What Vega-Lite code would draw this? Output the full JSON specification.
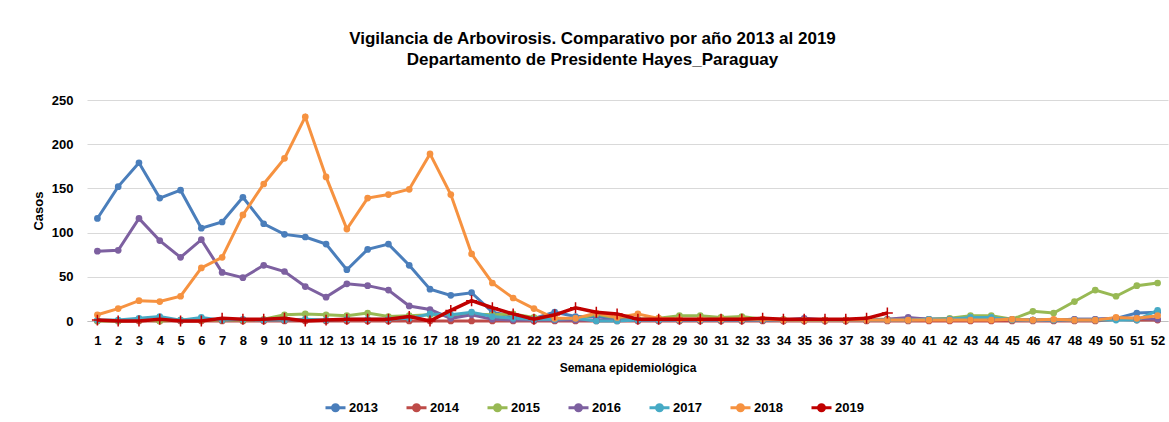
{
  "$schema": "https://vega.github.io/schema/vega-lite/v6.json",
  "width": 1081,
  "height": 221,
  "autosize": {"type": "none"},
  "padding": {"left": 87, "top": 100, "right": 1, "bottom": 101},
  "background": "white",
  "config": {
    "view": {"stroke": null},
    "font": "Liberation Sans Narrow, Arial Narrow, Liberation Sans, Arial"
  },
  "title": {
    "text": ["Vigilancia de Arbovirosis. Comparativo por año 2013 al 2019", "Departamento de Presidente Hayes_Paraguay"],
    "fontSize": 17,
    "fontWeight": "bold",
    "color": "#000000",
    "anchor": "middle",
    "dx": -35,
    "offset": 25,
    "lineHeight": 21
  },
  "data": {
    "values": [
      {"week":1,"2013":116,"2014":0,"2015":0,"2016":79,"2017":1,"2018":7,"2019":1},
      {"week":2,"2013":152,"2014":0,"2015":0,"2016":80,"2017":1,"2018":14,"2019":0},
      {"week":3,"2013":179,"2014":0,"2015":1,"2016":116,"2017":3,"2018":23,"2019":0},
      {"week":4,"2013":139,"2014":0,"2015":0,"2016":91,"2017":5,"2018":22,"2019":2},
      {"week":5,"2013":148,"2014":0,"2015":1,"2016":72,"2017":1,"2018":28,"2019":0},
      {"week":6,"2013":105,"2014":0,"2015":1,"2016":92,"2017":4,"2018":60,"2019":0},
      {"week":7,"2013":112,"2014":0,"2015":1,"2016":55,"2017":1,"2018":72,"2019":3},
      {"week":8,"2013":140,"2014":0,"2015":1,"2016":49,"2017":2,"2018":120,"2019":2},
      {"week":9,"2013":110,"2014":0,"2015":2,"2016":63,"2017":1,"2018":155,"2019":2},
      {"week":10,"2013":98,"2014":0,"2015":7,"2016":56,"2017":1,"2018":184,"2019":3},
      {"week":11,"2013":95,"2014":0,"2015":8,"2016":39,"2017":2,"2018":231,"2019":0},
      {"week":12,"2013":87,"2014":0,"2015":7,"2016":27,"2017":1,"2018":163,"2019":1},
      {"week":13,"2013":58,"2014":0,"2015":6,"2016":42,"2017":2,"2018":104,"2019":2},
      {"week":14,"2013":81,"2014":0,"2015":9,"2016":40,"2017":2,"2018":139,"2019":2},
      {"week":15,"2013":87,"2014":0,"2015":5,"2016":35,"2017":2,"2018":143,"2019":2},
      {"week":16,"2013":63,"2014":0,"2015":6,"2016":17,"2017":3,"2018":149,"2019":5},
      {"week":17,"2013":36,"2014":0,"2015":7,"2016":13,"2017":8,"2018":189,"2019":0},
      {"week":18,"2013":29,"2014":0,"2015":6,"2016":3,"2017":7,"2018":143,"2019":12},
      {"week":19,"2013":32,"2014":0,"2015":8,"2016":7,"2017":10,"2018":76,"2019":23},
      {"week":20,"2013":10,"2014":0,"2015":7,"2016":2,"2017":5,"2018":43,"2019":15},
      {"week":21,"2013":5,"2014":0,"2015":8,"2016":1,"2017":3,"2018":26,"2019":8},
      {"week":22,"2013":3,"2014":0,"2015":4,"2016":1,"2017":2,"2018":14,"2019":2},
      {"week":23,"2013":10,"2014":0,"2015":3,"2016":1,"2017":2,"2018":3,"2019":7},
      {"week":24,"2013":5,"2014":0,"2015":2,"2016":1,"2017":3,"2018":3,"2019":15},
      {"week":25,"2013":5,"2014":0,"2015":8,"2016":1,"2017":0,"2018":9,"2019":10},
      {"week":26,"2013":2,"2014":0,"2015":3,"2016":1,"2017":0,"2018":4,"2019":8},
      {"week":27,"2013":1,"2014":0,"2015":2,"2016":1,"2017":1,"2018":8,"2019":2},
      {"week":28,"2013":1,"2014":0,"2015":3,"2016":1,"2017":1,"2018":3,"2019":2},
      {"week":29,"2013":1,"2014":0,"2015":6,"2016":1,"2017":1,"2018":2,"2019":2},
      {"week":30,"2013":1,"2014":0,"2015":6,"2016":1,"2017":1,"2018":2,"2019":2},
      {"week":31,"2013":1,"2014":0,"2015":4,"2016":1,"2017":1,"2018":2,"2019":2},
      {"week":32,"2013":1,"2014":0,"2015":5,"2016":1,"2017":1,"2018":2,"2019":2},
      {"week":33,"2013":1,"2014":0,"2015":2,"2016":1,"2017":1,"2018":2,"2019":3},
      {"week":34,"2013":1,"2014":0,"2015":2,"2016":1,"2017":1,"2018":1,"2019":2},
      {"week":35,"2013":2,"2014":0,"2015":1,"2016":3,"2017":1,"2018":1,"2019":2},
      {"week":36,"2013":1,"2014":0,"2015":1,"2016":1,"2017":1,"2018":1,"2019":2},
      {"week":37,"2013":1,"2014":0,"2015":1,"2016":1,"2017":1,"2018":1,"2019":2},
      {"week":38,"2013":1,"2014":0,"2015":2,"2016":1,"2017":1,"2018":1,"2019":3},
      {"week":39,"2013":1,"2014":0,"2015":2,"2016":2,"2017":1,"2018":1,"2019":9},
      {"week":40,"2013":3,"2014":0,"2015":2,"2016":4,"2017":1,"2018":1,"2019":null},
      {"week":41,"2013":2,"2014":0,"2015":2,"2016":2,"2017":2,"2018":1,"2019":null},
      {"week":42,"2013":2,"2014":0,"2015":3,"2016":2,"2017":2,"2018":1,"2019":null},
      {"week":43,"2013":2,"2014":0,"2015":6,"2016":2,"2017":4,"2018":1,"2019":null},
      {"week":44,"2013":2,"2014":0,"2015":6,"2016":2,"2017":4,"2018":1,"2019":null},
      {"week":45,"2013":1,"2014":0,"2015":2,"2016":2,"2017":1,"2018":2,"2019":null},
      {"week":46,"2013":1,"2014":0,"2015":11,"2016":1,"2017":1,"2018":1,"2019":null},
      {"week":47,"2013":1,"2014":0,"2015":9,"2016":1,"2017":1,"2018":2,"2019":null},
      {"week":48,"2013":2,"2014":0,"2015":22,"2016":2,"2017":1,"2018":1,"2019":null},
      {"week":49,"2013":2,"2014":0,"2015":35,"2016":2,"2017":1,"2018":1,"2019":null},
      {"week":50,"2013":3,"2014":2,"2015":28,"2016":3,"2017":1,"2018":4,"2019":null},
      {"week":51,"2013":9,"2014":1,"2015":40,"2016":3,"2017":1,"2018":3,"2019":null},
      {"week":52,"2013":10,"2014":1,"2015":43,"2016":2,"2017":12,"2018":6,"2019":null}
    ]
  },
  "transform": [
    {"fold": ["2013","2014","2015","2016","2017","2018","2019"], "as": ["year","cases"]},
    {"filter": "datum.cases != null"}
  ],
  "encoding": {
    "x": {
      "field": "week", "type": "ordinal",
      "scale": {"padding": 0.5},
      "axis": {
        "title": "Semana epidemiológica",
        "titleFontSize": 12, "titleFontWeight": "bold", "titleColor": "#000000", "titlePadding": 15,
        "labelAngle": 0, "labelFontSize": 13, "labelFontWeight": "bold", "labelColor": "#000000",
        "labelPadding": 13, "ticks": false, "domain": true, "domainColor": "#bfbfbf", "grid": false
      }
    },
    "y": {
      "field": "cases", "type": "quantitative",
      "scale": {"domain": [0, 250], "nice": false},
      "axis": {
        "title": "Casos", "values": [0,50,100,150,200,250],
        "titleFontSize": 13, "titleFontWeight": "bold", "titleColor": "#000000", "titlePadding": 6,
        "labelFontSize": 13, "labelFontWeight": "bold", "labelColor": "#000000", "labelPadding": 14,
        "ticks": false, "domain": false, "grid": true, "gridColor": "#d9d9d9", "gridWidth": 1
      }
    },
    "color": {
      "field": "year", "type": "nominal",
      "scale": {
        "domain": ["2013","2014","2015","2016","2017","2018","2019"],
        "range": ["#4a7ebb","#be4b48","#98b954","#7d60a0","#46aac5","#f69240","#c00000"]
      },
      "legend": {
        "title": null, "orient": "none", "direction": "horizontal",
        "legendX": 237, "legendY": 296,
        "labelFontSize": 13, "labelFontWeight": "bold", "labelColor": "#000000",
        "symbolType": "M-1,0L1,0M0.3,0A0.3,0.3 0 1,1 -0.3,0A0.3,0.3 0 1,1 0.3,0",
        "symbolSize": 400, "symbolStrokeWidth": 3, "labelOffset": 2, "columnPadding": 22,
        "encode": {"symbols": {"update": {"fill": {"scale": "color", "field": "value"}, "stroke": {"scale": "color", "field": "value"}, "opacity": {"value": 1}}}}
      }
    }
  },
  "layer": [
    {"transform": [{"filter": "datum.year != '2019'"}], "mark": {"type": "line", "strokeWidth": 3}},
    {"transform": [{"filter": "datum.year != '2019'"}], "mark": {"type": "point", "filled": true, "size": 45, "opacity": 1}},
    {"transform": [{"filter": "datum.year == '2019'"}], "mark": {"type": "line", "strokeWidth": 3.5}},
    {"transform": [{"filter": "datum.year == '2019'"}], "mark": {"type": "point", "shape": "M-1,0H1M0,-1V1", "filled": false, "size": 120, "strokeWidth": 1.5, "opacity": 1}}
  ]
}
